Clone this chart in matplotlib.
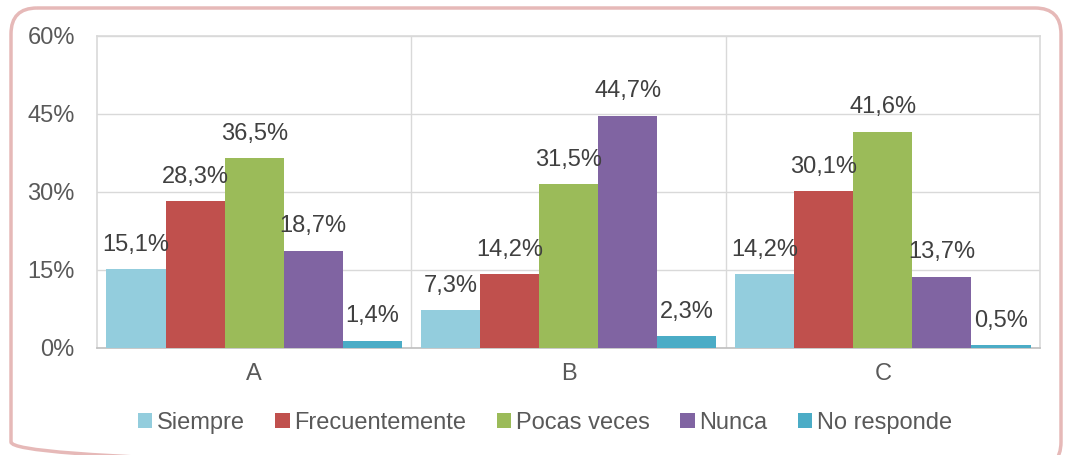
import numpy as np
import matplotlib.pyplot as plt
from matplotlib.patches import FancyBboxPatch

plt.rcParams['font.family'] = ['Liberation Sans', 'DejaVu Sans']

# datos
grupos = ['A', 'B', 'C']
series = ['Siempre', 'Frecuentemente', 'Pocas veces', 'Nunca', 'No responde']
valores = [
    [15.1, 7.3, 14.2],   # Siempre
    [28.3, 14.2, 30.1],  # Frecuentemente
    [36.5, 31.5, 41.6],  # Pocas veces
    [18.7, 44.7, 13.7],  # Nunca
    [1.4, 2.3, 0.5],     # No responde
]
colores = ['#93CDDD', '#C0504D', '#9BBB59', '#8064A2', '#4BACC6']
yticks = [0, 15, 30, 45, 60]

gris = '#595959'
fs = 17
fig = plt.figure(figsize=(10.65, 4.55), dpi=100)

# marco redondeado
bg = fig.add_axes([0, 0, 1, 1], zorder=-1)
bg.set_xlim(0, 1065)
bg.set_ylim(455, 0)
bg.axis('off')
bg.add_patch(FancyBboxPatch((11, 8), 1050, 460, boxstyle='round,pad=0,rounding_size=26',
                            fill=False, edgecolor='#E6B9B8', linewidth=2.5))

ax = fig.add_axes([97 / 1065, 1 - 348 / 455, (1040 - 97) / 1065, (348 - 36) / 455])
ax.patch.set_alpha(0)

x = np.arange(len(grupos))
w = 0.188
for i, (nombre, vals, c) in enumerate(zip(series, valores, colores)):
    pos = x + (i - 2) * w
    ax.bar(pos, vals, width=w, color=c, label=nombre, zorder=3)
    for px, v in zip(pos, vals):
        ax.annotate(f'{v:.1f}%'.replace('.', ','), (px, v), xytext=(0, 17.5),
                    textcoords='offset points', ha='center', va='center',
                    fontsize=fs, color='#404040', zorder=4)

ax.set_xlim(-0.5, 2.5)
ax.set_ylim(0, 60)
ax.set_yticks(yticks)
ax.set_yticklabels([f'{t}%' for t in yticks])
ax.set_xticks(x)
ax.set_xticklabels(grupos)
ax.set_xticks([0.5, 1.5], minor=True)
ax.tick_params(axis='both', length=0, colors=gris, labelsize=fs)
ax.tick_params(axis='y', pad=16)
ax.tick_params(axis='x', pad=11)
ax.tick_params(which='minor', length=0)
ax.grid(axis='y', color='#D9D9D9', linewidth=1, zorder=0)
ax.grid(axis='x', which='minor', color='#D9D9D9', linewidth=1, zorder=0)
for s in ax.spines.values():
    s.set_color('#D9D9D9')
    s.set_linewidth(1.2)
ax.spines['bottom'].set_color('#BFBFBF')

fig.legend(loc='center', bbox_to_anchor=(545 / 1065, 1 - 423 / 455), ncol=5, frameon=False,
           fontsize=fs, labelcolor=gris, handlelength=0.6, handleheight=0.6,
           handletextpad=0.2, columnspacing=1.3)

fig.savefig('out.png', dpi=100)
